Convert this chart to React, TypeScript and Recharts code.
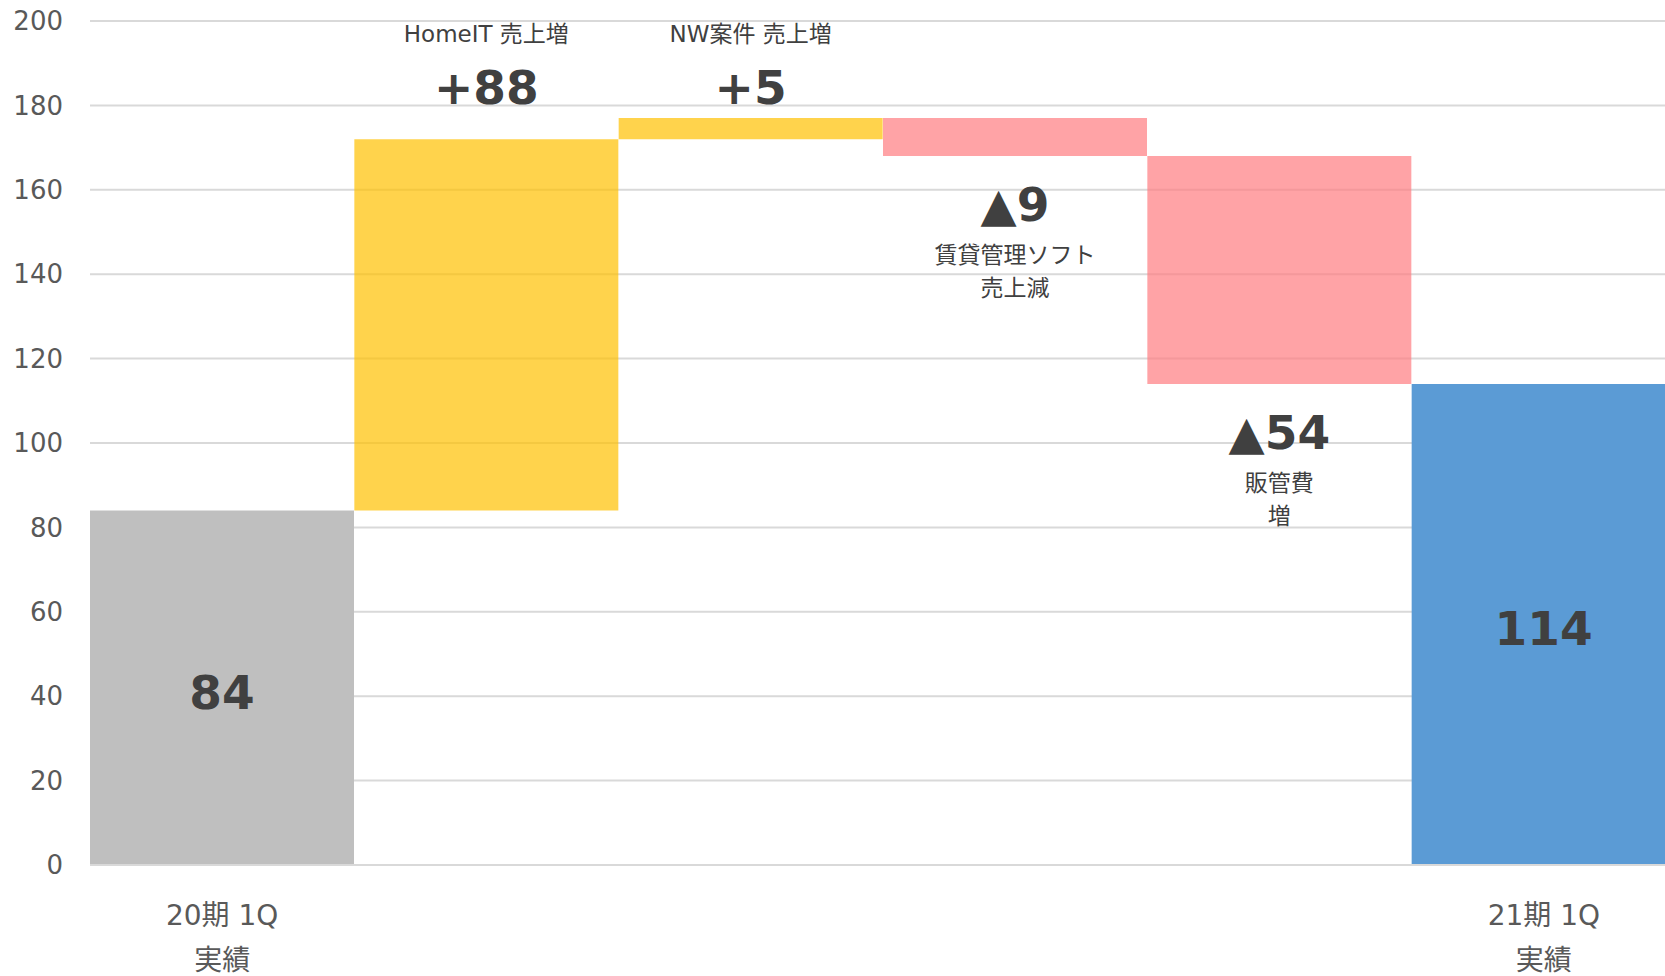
import React from "react";
import { BarChart, Bar, XAxis, YAxis, CartesianGrid, Cell, LabelList } from "recharts";

const categories = ["20期 1Q 実績", "HomeIT 売上増", "NW案件 売上増", "賃貸管理ソフト 売上減", "販管費 増", "21期 1Q 実績"];
const amounts = [84, 88, 5, -9, -54, 114];
const barKinds = ["total", "increase", "increase", "decrease", "decrease", "total"];
const valueLabels = ["84", "+88", "+5", "▲9", "▲54", "114"];
const annotationLines = [[], ["HomeIT 売上増"], ["NW案件 売上増"], ["賃貸管理ソフト", "売上減"], ["販管費", "増"], []];
const axisLabelLines = [["20期 1Q", "実績"], [], [], [], [], ["21期 1Q", "実績"]];
const yTicks = [0, 20, 40, 60, 80, 100, 120, 140, 160, 180, 200];

const W = 1665;
const H = 976;
const CHART_W = 1676;
const PLOT_TOP = 21;
const FONT = "'DejaVu Sans', 'Noto Sans CJK JP', sans-serif";
const TEXT_DARK = "#404040";
const TEXT_AXIS = "#595959";

const kindFill: Record<string, string> = {
  total0: "#BFBFBF",
  total1: "#5B9BD5",
  increase: "#FFC000",
  decrease: "#FF7C80",
};
const kindOpacity: Record<string, number> = { total: 1, increase: 0.7, decrease: 0.7 };

let running = 0;
const data = categories.map((name, i) => {
  const kind = barKinds[i];
  const amt = amounts[i];
  let base = 0;
  let delta = 0;
  if (kind === "total") {
    base = 0;
    delta = amt;
    running = amt;
  } else if (amt >= 0) {
    base = running;
    delta = amt;
    running += amt;
  } else {
    running += amt;
    base = running;
    delta = -amt;
  }
  return { name, i, base, delta };
});

const fillFor = (i: number) => {
  const k = barKinds[i];
  if (k === "total") return i === 0 ? kindFill.total0 : kindFill.total1;
  return kindFill[k];
};

const BarLabel = (props: any) => {
  const vb = props.viewBox || {};
  const x = Number(props.x ?? vb.x);
  const y = Number(props.y ?? vb.y);
  const width = Number(props.width ?? vb.width);
  const height = Number(props.height ?? vb.height);
  const i = Number(props.value);
  const kind = barKinds[i];
  const cx = x + width / 2;
  const bigStyle = { fontFamily: FONT, fontSize: 47, fontWeight: 700, fill: TEXT_DARK } as any;
  const smallStyle = { fontFamily: FONT, fontSize: 23, fill: TEXT_DARK } as any;
  if (kind === "total") {
    const cy = y + height / 2;
    return (
      <text x={cx} y={cy + 21} textAnchor="middle" style={bigStyle}>
        {valueLabels[i]}
      </text>
    );
  }
  if (kind === "increase") {
    return (
      <g>
        <text x={cx} y={PLOT_TOP + 13} textAnchor="middle" dominantBaseline="central" style={smallStyle}>
          {annotationLines[i][0]}
        </text>
        <text x={cx} y={PLOT_TOP + 83} textAnchor="middle" style={bigStyle}>
          {valueLabels[i]}
        </text>
      </g>
    );
  }
  const bottom = y + height;
  return (
    <g>
      <text x={cx} y={bottom + 65} textAnchor="middle" style={bigStyle}>
        {valueLabels[i]}
      </text>
      {annotationLines[i].map((line, k) => (
        <text
          key={k}
          x={cx}
          y={bottom + 99 + k * 33}
          textAnchor="middle"
          dominantBaseline="central"
          style={smallStyle}
        >
          {line}
        </text>
      ))}
    </g>
  );
};

const XTick = (props: any) => {
  const { x, y, index } = props;
  const lines = axisLabelLines[index] || [];
  return (
    <g>
      {lines.map((line: string, k: number) => (
        <text
          key={k}
          x={x}
          y={y + 50 + k * 45}
          textAnchor="middle"
          dominantBaseline="central"
          style={{ fontFamily: FONT, fontSize: 28, fill: TEXT_AXIS }}
        >
          {line}
        </text>
      ))}
    </g>
  );
};

export default function App() {
  return (
    <div style={{ position: "absolute", left: 0, top: 0, width: W, height: H, overflow: "hidden", background: "#fff" }}>
      <BarChart
        width={CHART_W}
        height={H}
        data={data}
        margin={{ top: PLOT_TOP, right: 0, bottom: 0, left: 0 }}
        barCategoryGap={0}
        barGap={0}
      >
        <CartesianGrid vertical={false} stroke="#D9D9D9" strokeWidth={2} />
        <XAxis
          dataKey="name"
          height={111}
          interval={0}
          tickLine={false}
          tickSize={0}
          tickMargin={0}
          axisLine={{ stroke: "#D9D9D9", strokeWidth: 2 }}
          tick={<XTick />}
        />
        <YAxis
          width={90}
          domain={[0, 200]}
          ticks={yTicks}
          axisLine={false}
          tickLine={false}
          tickSize={0}
          tickMargin={27}
          tick={{ fontFamily: FONT, fontSize: 26, fill: TEXT_AXIS }}
        />
        <Bar dataKey="base" stackId="w" fill="transparent" isAnimationActive={false} />
        <Bar dataKey="delta" stackId="w" isAnimationActive={false}>
          {data.map((d) => (
            <Cell key={d.i} fill={fillFor(d.i)} fillOpacity={kindOpacity[barKinds[d.i]]} />
          ))}
          <LabelList dataKey="i" content={<BarLabel />} />
        </Bar>
      </BarChart>
    </div>
  );
}
